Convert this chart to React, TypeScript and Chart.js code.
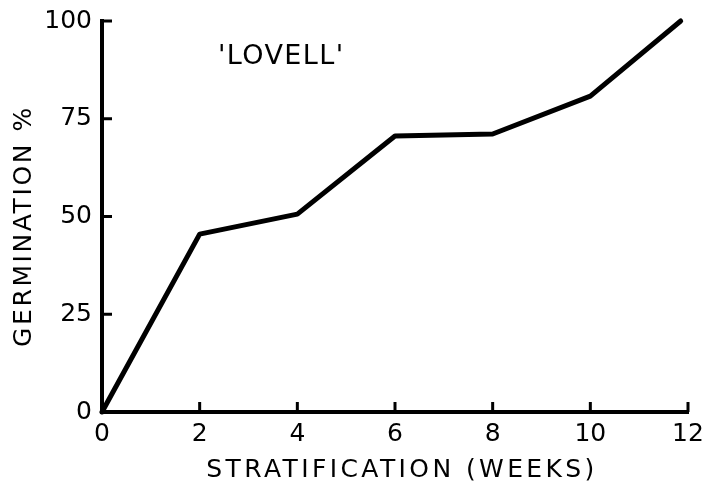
import { useEffect, useRef } from "react";
import { Chart, registerables } from "chart.js";

Chart.register(...registerables);

const weeks = [0, 2, 4, 6, 8, 10, 11.85];
const germination = [0, 45.5, 50.6, 70.6, 71.1, 80.8, 100];
const xTickValues = [0, 2, 4, 6, 8, 10, 12];
const yTickValues = [0, 25, 50, 75, 100];
const xTitle = "STRATIFICATION (WEEKS)";
const yTitle = "GERMINATION %";
const cultivar = "'LOVELL'";

const FONT = '"DejaVu Sans", sans-serif';

const decorPlugin = {
  id: "decor",
  afterDraw(chart: any) {
    const { ctx, chartArea } = chart;
    const xs = chart.scales.x;
    const ys = chart.scales.y;
    ctx.save();
    ctx.strokeStyle = "#000";
    ctx.lineWidth = 3;
    ctx.lineCap = "butt";
    xTickValues.forEach((v) => {
      const px = xs.getPixelForValue(v);
      ctx.beginPath();
      ctx.moveTo(px, chartArea.bottom);
      ctx.lineTo(px, chartArea.bottom - 10);
      ctx.stroke();
    });
    yTickValues.forEach((v) => {
      const py = ys.getPixelForValue(v);
      ctx.beginPath();
      ctx.moveTo(chartArea.left, py);
      ctx.lineTo(chartArea.left + 10, py);
      ctx.stroke();
    });

    ctx.fillStyle = "#000";
    ctx.textAlign = "center";
    ctx.textBaseline = "alphabetic";
    ctx.font = `25px ${FONT}`;
    (ctx as any).letterSpacing = "3.4px";
    ctx.fillText(xTitle, 402, 477);
    ctx.save();
    ctx.translate(31, 226);
    ctx.rotate(-Math.PI / 2);
    (ctx as any).letterSpacing = "2.6px";
    ctx.fillText(yTitle, 0, 0);
    ctx.restore();
    ctx.font = `27px ${FONT}`;
    (ctx as any).letterSpacing = "1.4px";
    ctx.fillText(cultivar, xs.getPixelForValue(3.67), ys.getPixelForValue(88.9));
    ctx.restore();
  },
};

export default function App() {
  const canvasRef = useRef<HTMLCanvasElement | null>(null);

  useEffect(() => {
    if (!canvasRef.current) return;
    const chart = new Chart(canvasRef.current, {
      type: "line",
      data: {
        datasets: [
          {
            data: weeks.map((w, i) => ({ x: w, y: germination[i] })),
            borderColor: "#000",
            borderWidth: 5,
            pointRadius: 0,
            tension: 0,
            borderJoinStyle: "round",
            borderCapStyle: "round",
            clip: false as any,
          },
        ],
      },
      options: {
        animation: false,
        responsive: true,
        maintainAspectRatio: false,
        layout: { padding: { top: 21, right: 30, left: 0, bottom: 0 } },
        plugins: {
          legend: { display: false },
          tooltip: { enabled: false },
        },
        scales: {
          x: {
            type: "linear",
            min: 0,
            max: 12,
            afterBuildTicks: (scale: any) => {
              scale.ticks = xTickValues.map((v) => ({ value: v }));
            },
            afterFit: (scale: any) => {
              scale.height = 69;
              scale.paddingLeft = 0;
              scale.paddingRight = 0;
              scale.paddingTop = 0;
              scale.paddingBottom = 0;
            },
            grid: { display: false, drawTicks: false, tickLength: 0 },
            border: { display: true, color: "#000", width: 4 },
            ticks: {
              color: "#000",
              padding: 7,
              maxRotation: 0,
              autoSkip: false,
              font: { family: FONT, size: 25 },
            },
          },
          y: {
            type: "linear",
            min: 0,
            max: 100,
            afterBuildTicks: (scale: any) => {
              scale.ticks = yTickValues.map((v) => ({ value: v }));
            },
            afterFit: (scale: any) => {
              scale.width = 102;
              scale.paddingLeft = 0;
              scale.paddingRight = 0;
              scale.paddingTop = 0;
              scale.paddingBottom = 0;
            },
            grid: { display: false, drawTicks: false, tickLength: 0 },
            border: { display: true, color: "#000", width: 4 },
            ticks: {
              color: "#000",
              padding: 10,
              autoSkip: false,
              font: { family: FONT, size: 25 },
            },
          },
        },
      },
      plugins: [decorPlugin],
    });
    return () => chart.destroy();
  }, []);

  return (
    <div style={{ position: "absolute", left: 0, top: 0, width: 718, height: 481, background: "#fff" }}>
      <canvas ref={canvasRef} />
    </div>
  );
}
